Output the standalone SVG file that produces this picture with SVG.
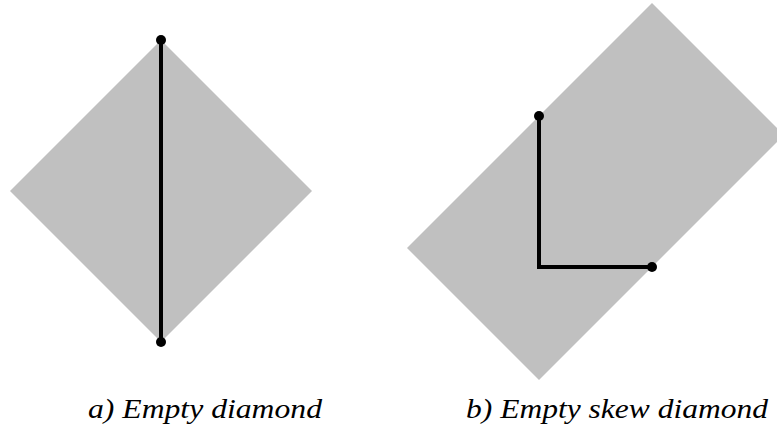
<svg xmlns="http://www.w3.org/2000/svg" width="777" height="434" viewBox="0 0 777 434">
<style>
.shape{fill:#c0c0c0;stroke:none}
.edge{fill:none;stroke:#000;stroke-width:4}
.dot{fill:#000}
.cap{font-family:"Liberation Serif","DejaVu Serif",serif;font-style:italic;font-size:27px;fill:#000}
</style>
<rect width="777" height="434" fill="#fff"/>
<g id="diamond-a">
<polygon class="shape" points="161,40 312,191 161,342 10,191"/>
</g>
<g id="diamond-b">
<polygon class="shape" points="652,3 784,135 539,380 407,248"/>
</g>
<g id="connectors">
<line class="edge" x1="161" y1="40" x2="161" y2="342"/>
<polyline class="edge" points="539,116 539,267 652,267"/>
</g>
<g id="points">
<circle class="dot" cx="161" cy="40" r="5"/>
<circle class="dot" cx="161" cy="342" r="5"/>
<circle class="dot" cx="539" cy="116" r="5"/>
<circle class="dot" cx="652" cy="267" r="5"/>
</g>
<g id="labels">
<text class="cap" x="88" y="418" textLength="234" lengthAdjust="spacingAndGlyphs">a)  Empty diamond</text>
<text class="cap" x="466" y="418" textLength="302" lengthAdjust="spacingAndGlyphs">b)  Empty skew diamond</text>
</g>
</svg>
